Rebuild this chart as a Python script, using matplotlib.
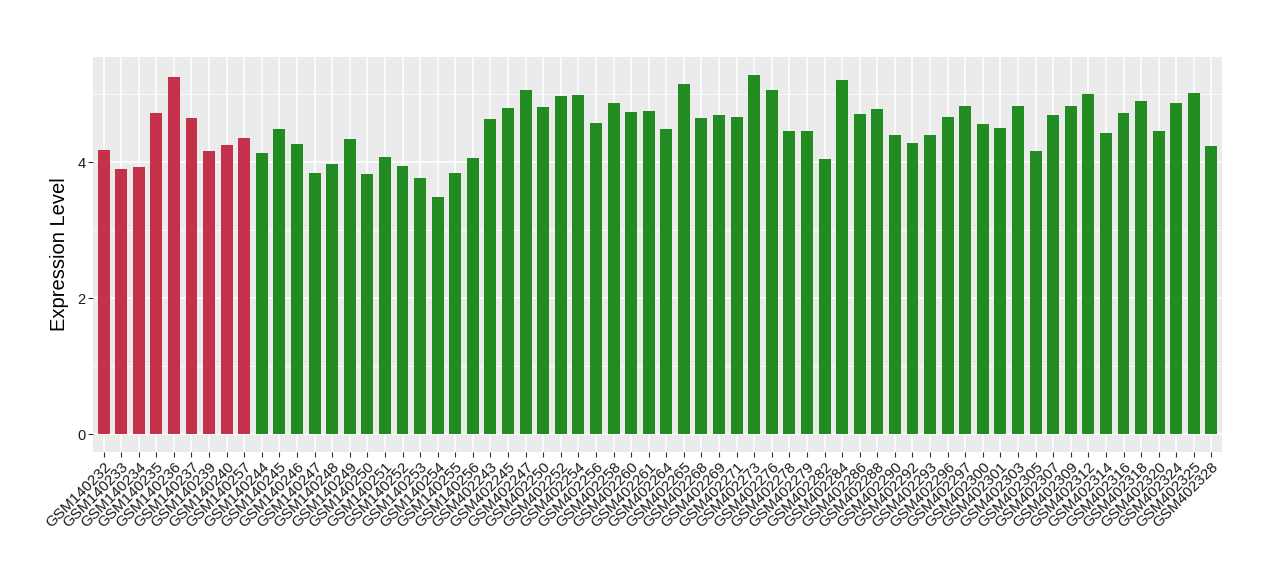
import matplotlib
matplotlib.use("Agg")
import matplotlib.pyplot as plt
from matplotlib.ticker import MultipleLocator

samples = [
    "GSM140232", "GSM140233", "GSM140234", "GSM140235", "GSM140236", "GSM140237",
    "GSM140239", "GSM140240", "GSM140257",
    "GSM140244", "GSM140245", "GSM140246", "GSM140247", "GSM140248", "GSM140249",
    "GSM140250", "GSM140251", "GSM140252", "GSM140253", "GSM140254", "GSM140255",
    "GSM140256",
    "GSM402243", "GSM402245", "GSM402247", "GSM402250", "GSM402252", "GSM402254",
    "GSM402256", "GSM402258", "GSM402260", "GSM402261", "GSM402264", "GSM402265",
    "GSM402268", "GSM402269", "GSM402271", "GSM402273", "GSM402276", "GSM402278",
    "GSM402279", "GSM402282", "GSM402284", "GSM402286", "GSM402288", "GSM402290",
    "GSM402292", "GSM402293", "GSM402296", "GSM402297", "GSM402300", "GSM402301",
    "GSM402303", "GSM402305", "GSM402307", "GSM402309", "GSM402312", "GSM402314",
    "GSM402316", "GSM402318", "GSM402320", "GSM402324", "GSM402325", "GSM402328",
]
values = [
    4.18, 3.90, 3.93, 4.72, 5.25, 4.65, 4.16, 4.25, 4.35,
    4.13, 4.49, 4.27, 3.84, 3.97, 4.34, 3.82, 4.07, 3.94, 3.76, 3.48, 3.84, 4.06,
    4.63, 4.80, 5.06, 4.81, 4.97, 4.99, 4.58, 4.87, 4.74, 4.75, 4.49, 5.15,
    4.65, 4.69, 4.66, 5.28, 5.06, 4.46, 4.46, 4.04, 5.20, 4.71, 4.78, 4.40,
    4.28, 4.40, 4.66, 4.83, 4.56, 4.50, 4.83, 4.16, 4.69, 4.83, 5.00, 4.43,
    4.72, 4.89, 4.46, 4.87, 5.02, 4.24,
]
groups = ["case"] * 9 + ["control"] * 55
group_colors = {"case": "#C3314A", "control": "#228B22"}

plt.rcParams["font.family"] = ["Liberation Sans", "DejaVu Sans"]

fig = plt.figure(figsize=(12.8, 5.8), dpi=100)
ax = fig.add_axes([93 / 1280, (580 - 452) / 580, (1222 - 93) / 1280, (452 - 57) / 580])
ax.set_facecolor("#EBEBEB")

x = list(range(len(samples)))
ax.bar(x, values, width=0.68, color=[group_colors[g] for g in groups], zorder=3)

vmax = max(values)
ax.set_ylim(-0.05 * vmax, vmax * 1.05)
ax.set_xlim(-0.6, len(samples) - 0.4)

ax.yaxis.set_major_locator(MultipleLocator(2))
ax.yaxis.set_minor_locator(MultipleLocator(1))
ax.grid(which="major", axis="y", color="white", linewidth=1.1, zorder=0)
ax.grid(which="minor", axis="y", color="white", linewidth=0.55, zorder=0)
ax.grid(which="major", axis="x", color="white", linewidth=1.1, zorder=0)

ax.set_xticks(x)
ax.set_xticklabels(samples, rotation=45, ha="right", rotation_mode="anchor",
                   fontsize=11, color="#1A1A1A")
ax.tick_params(axis="both", which="major", length=3.5, color="#333333",
               labelcolor="#1A1A1A", pad=2)
ax.tick_params(axis="y", labelsize=10.5)
ax.tick_params(axis="x", labelsize=11)
ax.tick_params(axis="y", which="minor", length=0)

for s in ax.spines.values():
    s.set_visible(False)

ax.set_ylabel("Expression Level", fontsize=14.5, labelpad=6)

fig.savefig("out.png", dpi=100)
